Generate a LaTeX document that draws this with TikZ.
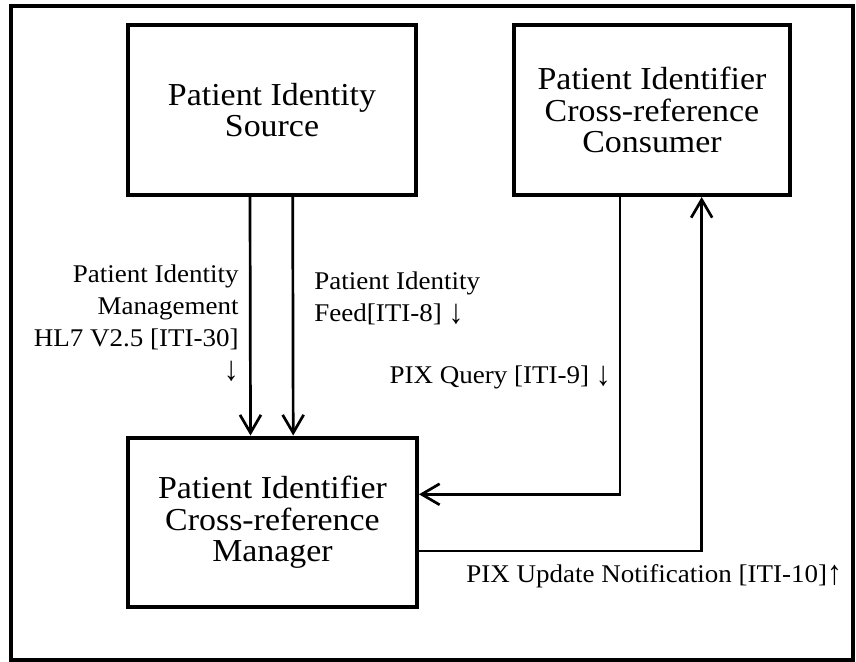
\documentclass[tikz,border=0pt]{standalone}
\usepackage{fontspec}
\setmainfont{Liberation Serif}[FakeStretch=1.06]
\usetikzlibrary{arrows.meta, positioning}
\newcommand{\dnarrow}{\raisebox{-0.2ex}{\scalebox{1.1}[1.35]{↓}}}
\newcommand{\uparrowsym}{\raisebox{-0.2ex}{\scalebox{1.1}[1.35]{↑}}}

\begin{document}
\begin{tikzpicture}[x=0.02cm, y=-0.02cm, font=\fontsize{14.5}{18.1}\selectfont,
    actor/.style={draw, line width=0.08cm, rectangle, align=center, minimum height=3.4cm,
        font=\fontsize{18.2}{18}\selectfont},
    msg/.style={line width=0.054cm, -{Straight Barb[length=0.36cm, width=0.42cm]}}]
    \useasboundingbox (0,0) rectangle (856,662);
    % 外框
    \draw[line width=0.08cm] (11,6) rectangle (853,660);

    % 角色
    \node[actor, minimum width=5.76cm] (src) at (272,110) {Patient Identity\\Source};
    \node[actor, minimum width=5.52cm] (cons) at (652,110) {Patient Identifier\\Cross-reference\\Consumer};
    \node[actor, minimum width=5.78cm] (mgr) at (272.5,522.5) {Patient Identifier\\Cross-reference\\Manager};

    % 事务
    \foreach \dx in {-0.44, 0.414} {
        \draw[msg] ([xshift=\dx cm]src.south) -- ([xshift=\dx cm]mgr.north);
    }
    \draw[msg] ([xshift=-0.64cm]cons.south) |- ([yshift=0.564cm]mgr.east);
    \draw[msg] ([yshift=-0.57cm]mgr.east) -| ([xshift=0.994cm]cons.south);

    % 标签
    \node[anchor=east, align=right, inner sep=0pt] (lpim) at (239,323) {Patient Identity\\Management\\HL7 V2.5 [ITI-30]\\\dnarrow};
    \node[anchor=west, align=left, inner sep=0pt] (lfeed) at (314,298) {Patient Identity\\Feed[ITI-8] \dnarrow};
    \node[anchor=east, inner sep=0pt] (lquery) at (611,377) {PIX Query [ITI-9] \dnarrow};
    \node[anchor=west, inner sep=0pt] (lupdate) at (466,576) {PIX Update Notification [ITI-10]\uparrowsym};
\end{tikzpicture}
\end{document}
